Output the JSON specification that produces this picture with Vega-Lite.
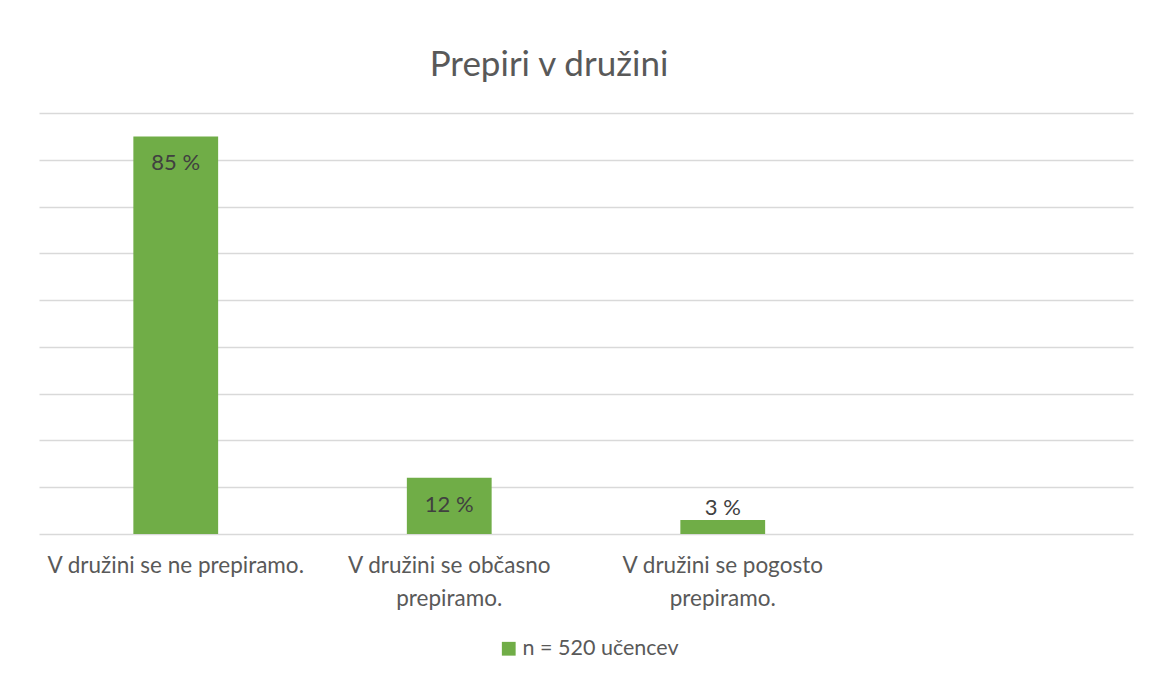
{
  "$schema": "https://vega.github.io/schema/vega-lite/v6.json",
  "width": 1094,
  "height": 421,
  "autosize": {"type": "none"},
  "padding": {"left": 39, "top": 113, "right": 17, "bottom": 143},
  "background": "white",
  "config": {
    "font": "Lato",
    "view": {"stroke": null}
  },
  "title": {
    "text": "Prepiri v družini",
    "font": "Lato",
    "fontSize": 35,
    "fontWeight": "normal",
    "color": "#595959",
    "anchor": "middle",
    "dx": -37,
    "offset": 30
  },
  "data": {
    "values": [
      {"category": "V družini se ne prepiramo.", "pct": 85},
      {"category": "V družini se občasno prepiramo.", "pct": 12},
      {"category": "V družini se pogosto prepiramo.", "pct": 3}
    ]
  },
  "encoding": {
    "x": {
      "field": "category",
      "type": "nominal",
      "sort": null,
      "scale": {
        "domain": ["V družini se ne prepiramo.", "V družini se občasno prepiramo.", "V družini se pogosto prepiramo.", " "],
        "paddingInner": 0.69,
        "paddingOuter": 0.345
      },
      "axis": {
        "title": null,
        "labelAngle": 0,
        "labelFont": "Lato",
        "labelFontSize": 22.5,
        "labelColor": "#595959",
        "labelLineHeight": 33,
        "labelPadding": 20,
        "labelBaseline": "top",
        "labelLimit": 400,
        "ticks": false,
        "domainColor": "#D9D9D9",
        "domainWidth": 1.5,
        "grid": false,
        "labelExpr": "datum.value == 'V družini se občasno prepiramo.' ? ['V družini se občasno', 'prepiramo.'] : datum.value == 'V družini se pogosto prepiramo.' ? ['V družini se pogosto', 'prepiramo.'] : datum.value"
      }
    },
    "y": {
      "field": "pct",
      "type": "quantitative",
      "scale": {"domain": [0, 90], "nice": false},
      "axis": {
        "title": null,
        "labels": false,
        "ticks": false,
        "domain": false,
        "grid": true,
        "gridColor": "#D9D9D9",
        "gridWidth": 1.5,
        "values": [10, 20, 30, 40, 50, 60, 70, 80, 90]
      }
    }
  },
  "layer": [
    {
      "mark": {"type": "bar"},
      "encoding": {
        "color": {
          "datum": "n = 520 učencev",
          "type": "nominal",
          "scale": {"range": ["#70AD47"]},
          "legend": {
            "title": null,
            "orient": "none",
            "legendX": 459,
            "legendY": 525,
            "symbolType": "square",
            "symbolSize": 190,
            "symbolStrokeWidth": 0,
            "labelFont": "Lato",
            "labelFontSize": 21.5,
            "labelColor": "#595959",
            "labelOffset": 3
          }
        }
      }
    },
    {
      "transform": [
        {"filter": "datum.pct >= 10"},
        {"calculate": "datum.pct + ' %'", "as": "label"}
      ],
      "mark": {"type": "text", "baseline": "middle", "dy": 27, "fontSize": 22, "color": "#404040", "font": "Lato"},
      "encoding": {"text": {"field": "label"}}
    },
    {
      "transform": [
        {"filter": "datum.pct < 10"},
        {"calculate": "datum.pct + ' %'", "as": "label"}
      ],
      "mark": {"type": "text", "baseline": "middle", "dy": -12, "fontSize": 22, "color": "#404040", "font": "Lato"},
      "encoding": {"text": {"field": "label"}}
    }
  ]
}
